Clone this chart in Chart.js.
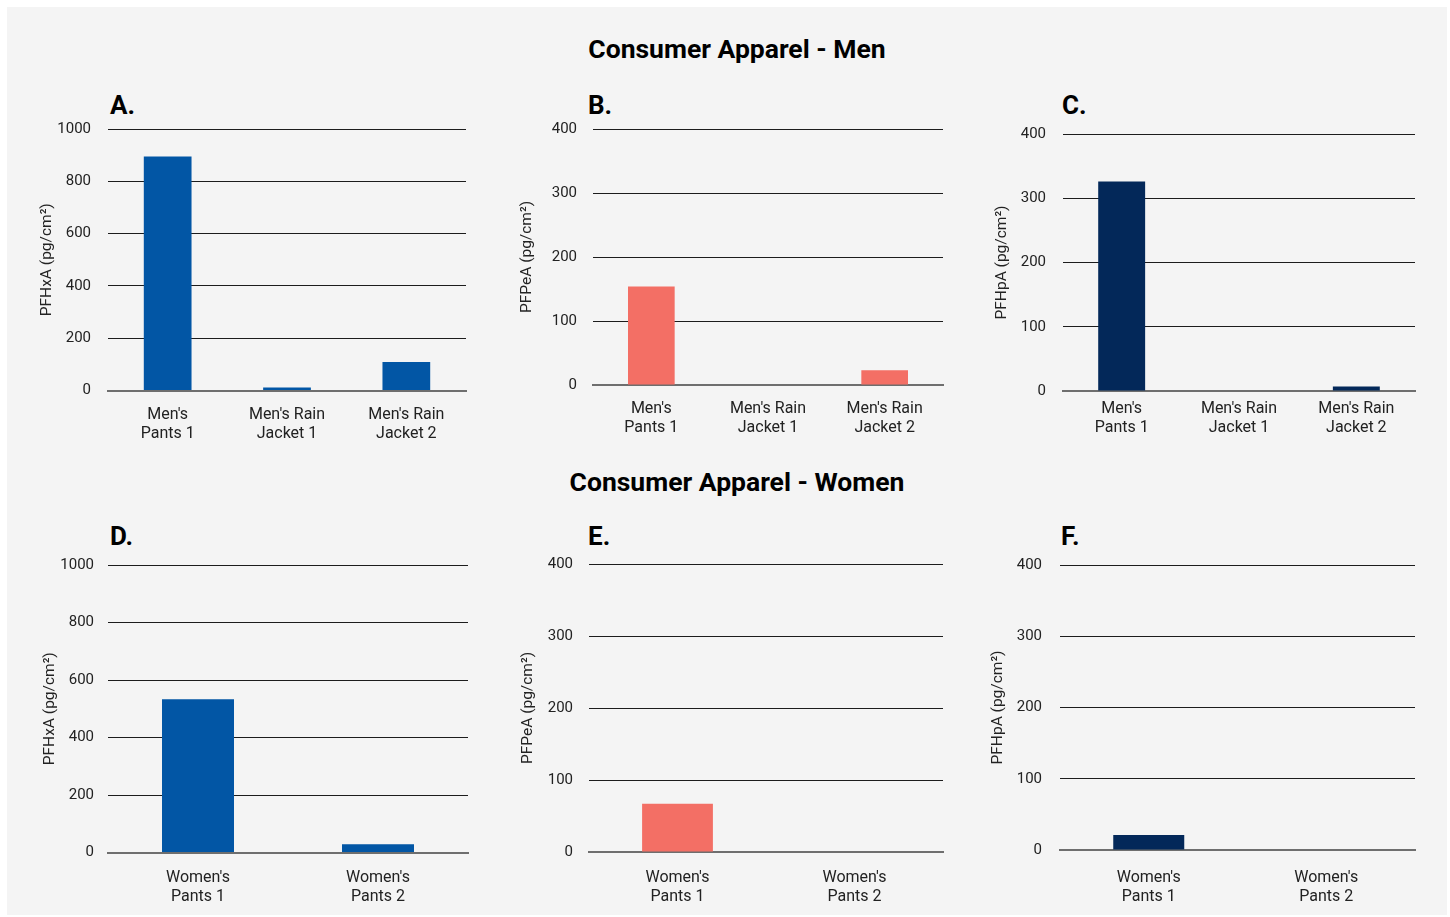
<!DOCTYPE html>
<html>
<head>
<meta charset="utf-8">
<title>Consumer Apparel</title>
<script src="https://cdn.jsdelivr.net/npm/chart.js@4"></script>
<style>
  html, body { margin: 0; padding: 0; background: #ffffff; }
  body { width: 1450px; height: 917px; position: relative; overflow: hidden; font-family: Roboto, "Noto Sans", sans-serif; }
  #panel { position: absolute; left: 7px; top: 7px; width: 1440px; height: 908px; background: #f4f4f4; }
  .heading { position: absolute; left: 0; width: 1474px; text-align: center; font-weight: bold; font-size: 26.5px; line-height: 30px; color: #000; }
  .letter { position: absolute; font-weight: bold; font-size: 26px; line-height: 28px; color: #000; }
  canvas { position: absolute; }
</style>
</head>
<body>
<div id="panel"></div>
<div class="heading" style="top:34px;">Consumer Apparel - Men</div>
<div class="heading" style="top:467px;">Consumer Apparel - Women</div>
<div class="letter" style="left:110px; top:91px;">A.</div>
<div class="letter" style="left:588px; top:91px;">B.</div>
<div class="letter" style="left:1062px; top:91px;">C.</div>
<div class="letter" style="left:110px; top:522px;">D.</div>
<div class="letter" style="left:588px; top:522px;">E.</div>
<div class="letter" style="left:1061px; top:522px;">F.</div>

<script>
// Category labels (two lines each)
const menItems = [["Men's", "Pants 1"], ["Men's Rain", "Jacket 1"], ["Men's Rain", "Jacket 2"]];
const womenItems = [["Women's", "Pants 1"], ["Women's", "Pants 2"]];

// Surface concentrations, pg/cm²
const menPFHxA = [895, 11, 109];
const menPFPeA = [154, 0, 23];
const menPFHpA = [326, 0, 7];
const womenPFHxA = [533, 29];
const womenPFPeA = [67, 0];
const womenPFHpA = [21, 0];

// Axis titles and ranges
const titlePFHxA = "PFHxA (pg/cm²)";
const titlePFPeA = "PFPeA (pg/cm²)";
const titlePFHpA = "PFHpA (pg/cm²)";
const maxPFHxA = 1000, stepPFHxA = 200;
const maxPFPeA = 400, stepPFPeA = 100;
const maxPFHpA = 400, stepPFHpA = 100;

const BLUE = "#0256a5";
const SALMON = "#f36f65";
const NAVY = "#032859";

Chart.defaults.font.family = "Roboto, 'Noto Sans', sans-serif";

// box: canvas placement; plot: desired plot-area edges (page coordinates)
function panelChart(box, plot, gaps, labels, values, color, yTitle, yMax, step) {
  const c = document.createElement("canvas");
  c.width = box.w; c.height = box.h;
  c.style.left = box.x + "px"; c.style.top = box.y + "px";
  c.style.width = box.w + "px"; c.style.height = box.h + "px";
  document.body.appendChild(c);
  new Chart(c.getContext("2d"), {
    type: "bar",
    data: {
      labels: labels,
      datasets: [{
        data: values,
        backgroundColor: color,
        borderWidth: 0,
        categoryPercentage: 1.0,
        barPercentage: 0.4
      }]
    },
    options: {
      responsive: false,
      animation: false,
      devicePixelRatio: 1,
      layout: { padding: { top: plot.top - box.y, right: box.x + box.w - plot.right, left: 0, bottom: 0 } },
      plugins: { legend: { display: false }, tooltip: { enabled: false } },
      scales: {
        x: {
          grid: { display: false, drawTicks: false },
          border: { display: true, color: "#6e6e6e", width: 2 },
          ticks: {
            color: "#222",
            font: { size: 16, lineHeight: 1.2 },
            padding: gaps.label,
            maxRotation: 0,
            autoSkip: false
          },
          afterFit(s) { s.height = box.y + box.h - plot.bottom; }
        },
        y: {
          min: 0,
          max: yMax,
          ticks: {
            stepSize: step,
            color: "#222",
            font: { size: 15 },
            padding: gaps.tick,
            callback: (v) => String(v)
          },
          grid: {
            drawTicks: false,
            lineWidth: 1,
            color: (ctx) => (ctx.tick && ctx.tick.value === 0) ? "rgba(0,0,0,0)" : "#1c1c1c"
          },
          border: { display: false },
          title: {
            display: true,
            text: yTitle,
            color: "#222",
            font: { size: 15.5 },
            padding: { top: gaps.title, bottom: 0 }
          },
          afterFit(s) { s.width = plot.left - box.x; }
        }
      }
    }
  });
}

// Men
panelChart({ x: 20, y: 90, w: 470, h: 360 }, { left: 108, right: 466, top: 129, bottom: 390.5 },
  { label: 15, tick: 17, title: 18 }, menItems, menPFHxA, BLUE, titlePFHxA, maxPFHxA, stepPFHxA);
panelChart({ x: 500, y: 90, w: 455, h: 360 }, { left: 593, right: 943, top: 129, bottom: 385 },
  { label: 14.5, tick: 16, title: 18 }, menItems, menPFPeA, SALMON, titlePFPeA, maxPFPeA, stepPFPeA);
panelChart({ x: 975, y: 90, w: 455, h: 360 }, { left: 1063, right: 1415, top: 134, bottom: 391 },
  { label: 8.5, tick: 17, title: 18 }, menItems, menPFHpA, NAVY, titlePFHpA, maxPFHpA, stepPFHpA);

// Women
panelChart({ x: 20, y: 520, w: 470, h: 390 }, { left: 108, right: 468, top: 565, bottom: 852.5 },
  { label: 16, tick: 14, title: 21 }, womenItems, womenPFHxA, BLUE, titlePFHxA, maxPFHxA, stepPFHxA);
panelChart({ x: 500, y: 520, w: 455, h: 390 }, { left: 589, right: 943, top: 564, bottom: 852 },
  { label: 16.5, tick: 16, title: 19 }, womenItems, womenPFPeA, SALMON, titlePFPeA, maxPFPeA, stepPFPeA);
panelChart({ x: 975, y: 520, w: 455, h: 390 }, { left: 1060, right: 1415, top: 565, bottom: 850 },
  { label: 18.5, tick: 18, title: 14 }, womenItems, womenPFHpA, NAVY, titlePFHpA, maxPFHpA, stepPFHpA);
</script>
</body>
</html>
